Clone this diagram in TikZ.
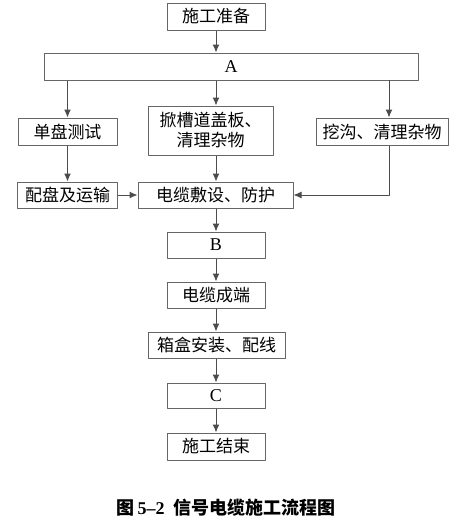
\documentclass[tikz,border=0pt]{standalone}
\usepackage{fontspec}
\setmainfont{Liberation Serif}
\newfontfamily\cjk{Noto Sans CJK SC}
\usepackage{tikz}
\usetikzlibrary{arrows.meta}

\begin{document}
\begin{tikzpicture}[x=1pt,y=-1pt,join=round,
        stepbox/.style={draw=black!60,line width=1pt,inner sep=0pt,
                minimum height=27pt,font=\fontsize{17}{20}\selectfont\cjk},
        flow/.style={draw=black!70,line width=1pt,-{Latex[length=8pt,width=7pt]}}]% signal cable flow
        \useasboundingbox (0,0) rectangle (458,525);
        \node[stepbox,minimum width=98pt] (prep) at (216,16.5) {施工准备};
        \node[stepbox,minimum width=374pt,font=\fontsize{18}{20}\selectfont] (A) at (231,66.5) {A};
        \node[stepbox,minimum width=99pt] (test) at (67.5,131.5) {单盘测试};
        \node[stepbox,minimum width=125pt,minimum height=49pt,align=center] (lid) at (210.5,130.5) {掀槽道盖板、\\清理杂物};
        \node[stepbox,minimum width=132pt] (ditch) at (382,131.5) {挖沟、清理杂物};
        \node[stepbox,minimum width=100pt,minimum height=26pt] (reel) at (67.5,195) {配盘及运输};
        \node[stepbox,minimum width=155pt,minimum height=26pt] (lay) at (215.5,195) {电缆敷设、防护};
        \node[stepbox,minimum width=98pt,minimum height=26pt,font=\fontsize{18}{20}\selectfont] (B) at (216,245) {B};
        \node[stepbox,minimum width=98pt,minimum height=26pt] (term) at (216,295) {电缆成端};
        \node[stepbox,minimum width=137pt,minimum height=26pt] (boxes) at (216.5,345) {箱盒安装、配线};
        \node[stepbox,minimum width=98pt,minimum height=25pt,font=\fontsize{18}{20}\selectfont] (C) at (216,395.5) {C};
        \node[stepbox,minimum width=98pt] (end) at (216,446.5) {施工结束};
        \node[font=\fontsize{18}{21}\selectfont\bfseries] (cap) at (226,508)
                {{\cjk 图}\,5--2\ \ {\cjk 信号电缆施工流程图}};
        \coordinate (r) at (389,80);
        % main line
        \draw[flow] (prep) -- (prep|-A.north);
        \draw[flow] (A.south-|test) -- (test.north);
        \draw[flow] (A.south-|prep) -- (lid.north-|prep);
        \draw[flow] (r) -- (r|-ditch.north);
        \draw[flow] (test) -- (reel);
        \draw[flow] (lid.south-|prep) -- (lay.north-|prep);
        \draw[flow] (reel) -- (lay);
        \draw[flow] (r|-ditch.south) |- (lay.east);
        \draw[flow] (lay.south-|prep) -- (B);
        \draw[flow] (B) -- (term);
        \draw[flow] (term) -- (boxes.north-|term);
        \draw[flow] (boxes.south-|term) -- (C);
        \draw[flow] (C) -- (end);
\end{tikzpicture}
\end{document}
